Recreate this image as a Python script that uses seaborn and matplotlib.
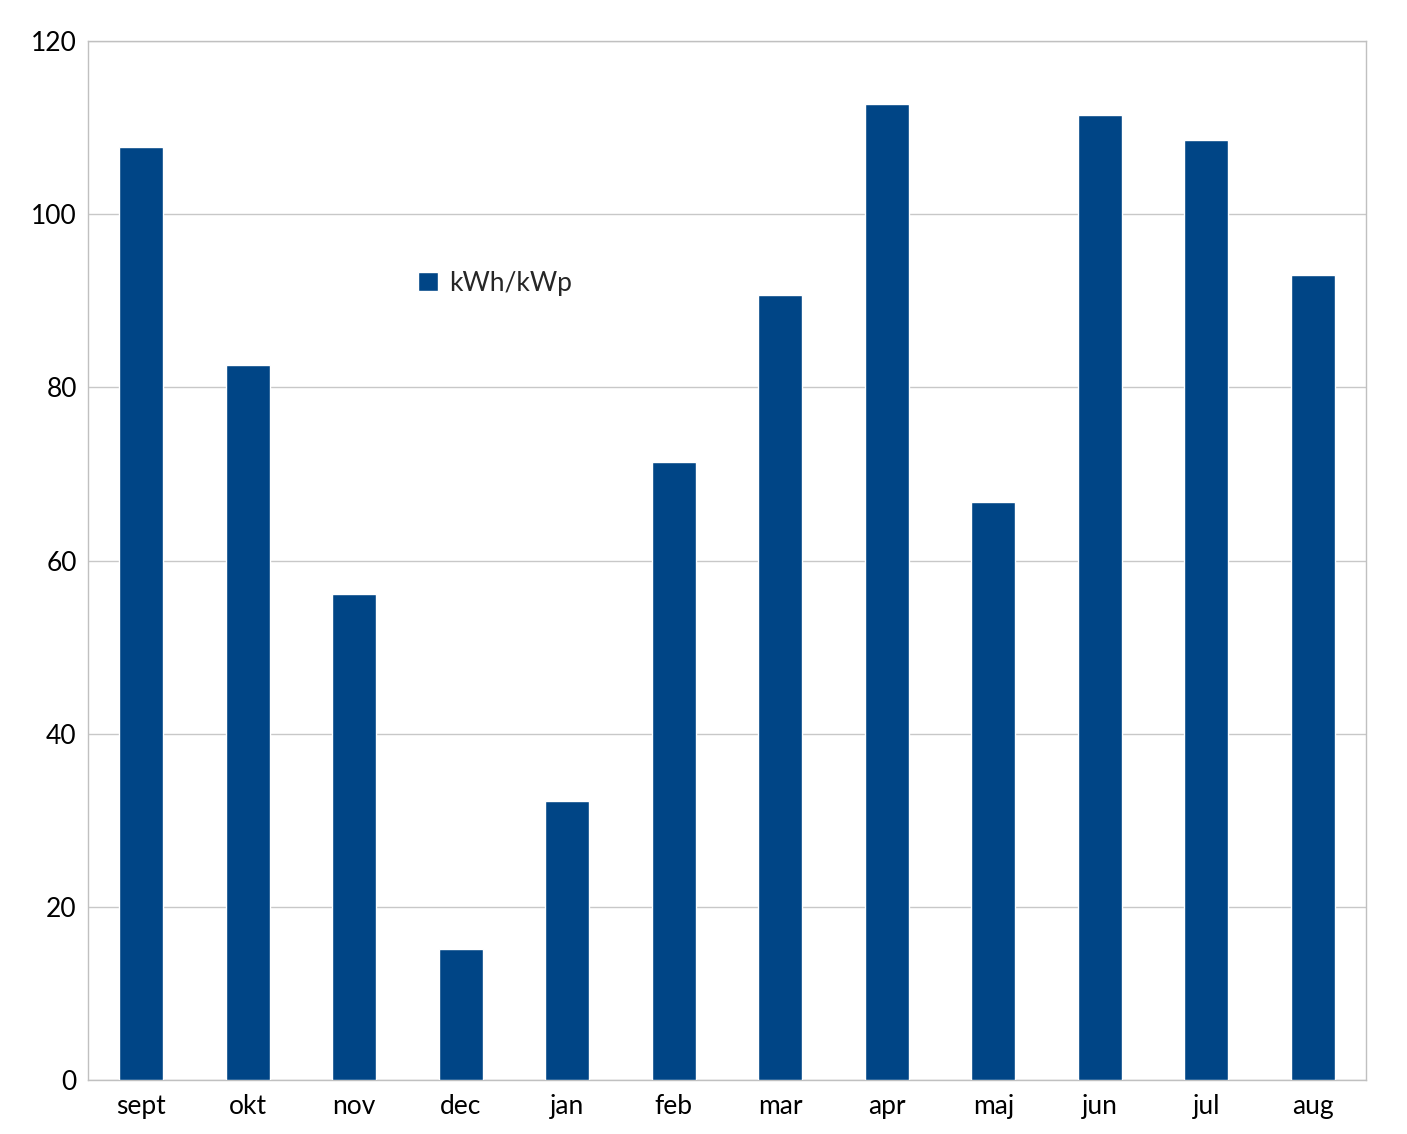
import pandas as pd
import matplotlib.pyplot as plt
import seaborn as sns

months = ["sept", "okt", "nov", "dec", "jan", "feb", "mar", "apr", "maj", "jun", "jul", "aug"]
kwh_per_kwp = [107.8, 82.6, 56.1, 15.1, 32.2, 71.4, 90.7, 112.7, 66.8, 111.5, 108.6, 93.0]
y_ticks = [0, 20, 40, 60, 80, 100, 120]

df = pd.DataFrame({"month": months, "value": kwh_per_kwp})

sns.set_style("white")
plt.rcParams["font.family"] = ["Lato", "DejaVu Sans"]

fig = plt.figure(figsize=(14.07, 11.34), dpi=100)
ax = fig.add_axes([0.0625, 0.0476, 0.9084, 0.9162])

sns.barplot(data=df, x="month", y="value", color="#004586", width=0.41,
            saturation=1, ax=ax, label="kWh/kWp", zorder=3)

ax.set_ylim(0, 120)
ax.set_xlim(-0.5, len(months) - 0.5)
ax.set_yticks(y_ticks)
ax.yaxis.grid(True, color="#c8c8c8", linewidth=1, zorder=0)
ax.set_axisbelow(True)
for s in ax.spines.values():
    s.set_color("#c0c0c0")
    s.set_linewidth(1)
ax.tick_params(axis="both", length=0, labelsize=19, pad=10, colors="black")
ax.tick_params(axis="y", pad=8)
ax.set_xlabel("")
ax.set_ylabel("")

ax.legend(loc="center left", bbox_to_anchor=(0.240, 0.767), frameon=False,
          fontsize=19, handlelength=0.75, handleheight=0.75, handletextpad=0.4)

fig.savefig("out.png", dpi=100)
